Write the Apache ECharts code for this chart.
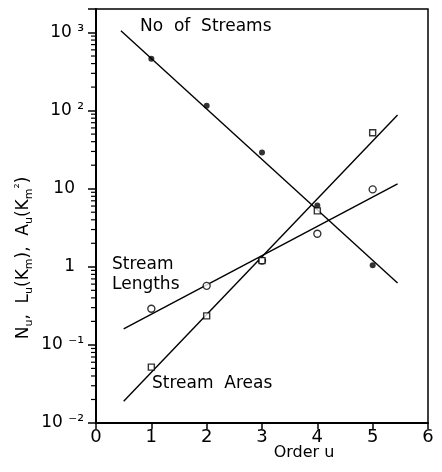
<!DOCTYPE html>
<html>
<head>
<meta charset="utf-8">
<script src="https://cdn.jsdelivr.net/npm/echarts@6/dist/echarts.min.js"></script>
<style>
  html, body { margin: 0; padding: 0; background: #fff; }
  #chart { width: 442px; height: 472px; }
</style>
</head>
<body>
<div id="chart"></div>
<script>
  // values (log y axis)
  const order = [1, 2, 3, 4, 5]
  const noStreams = [460, 115, 29, 6.1, 1.05]
  const streamLengths = [0.29, 0.57, 1.2, 2.65, 9.8]
  const streamAreas = [0.052, 0.235, 1.2, 5.2, 52]

  // end points of the fitted lines
  const streamsFitX = [0.45, 5.45]
  const streamsFitY = [1050, 0.62]
  const lengthsFitX = [0.5, 5.45]
  const lengthsFitY = [0.16, 11.5]
  const areasFitX = [0.5, 5.45]
  const areasFitY = [0.019, 88]

  // log minor ticks 2..9 of each decade
  const minorTicks = []
  for (let e = -2; e <= 3; e++) {
    for (let m = 2; m <= 9; m++) {
      const v = m * Math.pow(10, e)
      if (v < 2000) minorTicks.push(v)
    }
  }

  const font = 'DejaVu Sans'
  const zip = (xs, ys) => xs.map((x, i) => [x, ys[i]])

  const supLabels = { '-2': '10 ⁻²', '-1': '10 ⁻¹', '0': '1', '1': '10', '2': '10 ²', '3': '10 ³' }

  const fitLine = (xs, ys) => ({
    type: 'line',
    data: zip(xs, ys),
    symbol: 'none',
    lineStyle: { color: '#000', width: 1.4 },
    z: 2
  })

  const chart = echarts.init(document.getElementById('chart'))
  chart.setOption({
    animation: false,
    grid: {
      left: 96, right: 14, top: 9, bottom: 49,
      show: true, borderColor: '#000', borderWidth: 1.5
    },
    xAxis: {
      type: 'value',
      min: 0, max: 6, interval: 1,
      axisLine: { lineStyle: { color: '#000', width: 2 } },
      axisTick: { length: 6, lineStyle: { color: '#000', width: 1.5 } },
      axisLabel: { color: '#000', fontSize: 18, fontFamily: font, margin: 5 },
      splitLine: { show: false }
    },
    yAxis: {
      type: 'log',
      logBase: 10,
      min: 0.01, max: 2000,
      axisLine: { lineStyle: { color: '#000', width: 2 } },
      axisTick: { length: 8, lineStyle: { color: '#000', width: 1.5 } },
      axisLabel: {
        color: '#000', fontSize: 17, fontFamily: font, margin: 12,
        formatter: function (v) {
          const e = Math.log10(v)
          if (Math.abs(e - Math.round(e)) > 1e-6) return ''
          const s = supLabels[String(Math.round(e))]
          if (s === '1' || s === '10') return '{p|' + s + '}'
          return s
        },
        rich: { p: { fontSize: 17, fontFamily: font, padding: [0, 9, 0, 0] } }
      },
      splitLine: { show: false }
    },
    graphic: [
      { type: 'text', left: 140, top: 18, style: { text: 'No  of  Streams', fontSize: 17, fontFamily: font, fill: '#000' } },
      { type: 'text', left: 112, top: 255, style: { text: 'Stream\nLengths', fontSize: 17, lineHeight: 20, fontFamily: font, fill: '#000' } },
      { type: 'text', left: 152, top: 375, style: { text: 'Stream  Areas', fontSize: 17, fontFamily: font, fill: '#000' } },
      { type: 'text', x: 304, y: 453, style: { text: 'Order u', fontSize: 16, fontFamily: font, fill: '#000', align: 'center', verticalAlign: 'middle' } },
      {
        type: 'text', x: 24, y: 258, rotation: Math.PI / 2,
        style: {
          text: '{n|N}{s|u}{n|,  L}{s|u}{n|(K}{s|m}{n|),  A}{s|u}{n|(K}{s|m}{t|²}{n|)}',
          align: 'center', verticalAlign: 'middle', fill: '#000',
          rich: {
            n: { fontSize: 17, fontFamily: font, lineHeight: 22 },
            s: { fontSize: 11, fontFamily: font, verticalAlign: 'bottom', lineHeight: 22 },
            t: { fontSize: 13, fontFamily: font, verticalAlign: 'top', lineHeight: 22 }
          }
        }
      }
    ],
    series: [
      fitLine(streamsFitX, streamsFitY),
      fitLine(lengthsFitX, lengthsFitY),
      fitLine(areasFitX, areasFitY),
      {
        type: 'scatter', data: zip(order, noStreams),
        symbol: 'circle', symbolSize: 6,
        itemStyle: { color: '#000' }, z: 3
      },
      {
        type: 'scatter', data: zip(order, streamLengths),
        symbol: 'circle', symbolSize: 7,
        itemStyle: { color: '#fff', borderColor: '#000', borderWidth: 1.4 }, z: 3
      },
      {
        type: 'scatter', data: zip(order, streamAreas),
        symbol: 'rect', symbolSize: 6,
        itemStyle: { color: '#fff', borderColor: '#000', borderWidth: 1.4 }, z: 3
      },
      {
        type: 'custom',
        data: minorTicks.map(v => [0, v]),
        silent: true,
        clip: false,
        renderItem: function (params, api) {
          const p = api.coord([0, api.value(1)])
          return {
            type: 'line',
            shape: { x1: p[0] - 5, y1: p[1], x2: p[0], y2: p[1] },
            style: { stroke: '#000', lineWidth: 1.2 }
          }
        },
        z: 1
      }
    ]
  })
</script>
</body>
</html>
